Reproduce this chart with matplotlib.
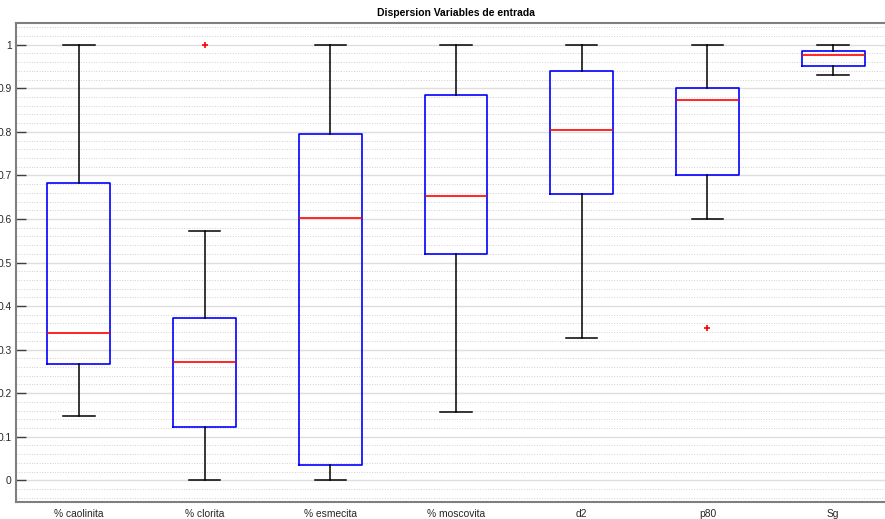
import matplotlib
matplotlib.use('Agg')
import matplotlib.pyplot as plt
from matplotlib.ticker import MultipleLocator

plt.rcParams['font.family'] = ['Liberation Sans', 'DejaVu Sans']

## Data ##
labels = ['% caolinita', '% clorita', '% esmecita', '% moscovita', 'd2', 'p80', 'Sg']
whisker_low = [0.147, 0.0, 0.0, 0.157, 0.326, 0.599, 0.931]
q1 = [0.267, 0.122, 0.035, 0.519, 0.657, 0.700, 0.952]
median = [0.339, 0.271, 0.602, 0.652, 0.804, 0.873, 0.976]
q3 = [0.682, 0.373, 0.795, 0.884, 0.939, 0.901, 0.986]
whisker_high = [1.0, 0.572, 1.0, 1.0, 1.0, 1.0, 1.0]
outliers = [[], [1.0], [], [], [], [0.349], []]

stats = []
for i in range(len(labels)):
    stats.append({'label': labels[i], 'whislo': whisker_low[i], 'q1': q1[i],
                  'med': median[i], 'q3': q3[i], 'whishi': whisker_high[i],
                  'fliers': outliers[i]})

fig = plt.figure(figsize=(8.85, 5.19), dpi=100)
ax = fig.add_axes([16 / 885, 17 / 519, 880 / 885, 479 / 519])

ax.bxp(stats, positions=range(1, 8), widths=0.5, capwidths=0.25,
       boxprops=dict(color='blue', linewidth=1.2),
       medianprops=dict(color='red', linewidth=1.2),
       whiskerprops=dict(color='black', linewidth=1.1, linestyle='-'),
       capprops=dict(color='black', linewidth=1.1),
       flierprops=dict(marker='+', markeredgecolor='red', markersize=4, markeredgewidth=1.2))

ax.set_xlim(0.5, 7.5)
ax.set_ylim(-0.05, 1.05)
ax.set_yticks([0, 0.1, 0.2, 0.3, 0.4, 0.5, 0.6, 0.7, 0.8, 0.9, 1])
ax.set_yticklabels(['0', '0.1', '0.2', '0.3', '0.4', '0.5', '0.6', '0.7', '0.8', '0.9', '1'])
ax.yaxis.set_minor_locator(MultipleLocator(0.02))

## grid like matlab ##
ax.grid(which='major', axis='y', color='#dedede', linewidth=1.0)
ax.grid(which='minor', axis='y', color='#d0d0d0', linestyle=':', linewidth=0.7)
ax.set_axisbelow(True)

ax.tick_params(axis='y', which='major', direction='in', length=7, width=1,
               color='#404040', labelsize=7.4, labelcolor='#262626', pad=3)
ax.tick_params(axis='y', which='minor', length=0)
ax.tick_params(axis='x', length=0, labelsize=7.4, labelcolor='#262626', pad=5)

for side in ['left', 'top', 'bottom']:
    ax.spines[side].set_color('#7f7f7f')
    ax.spines[side].set_linewidth(1.5)
ax.spines['right'].set_visible(False)

ax.set_title('Dispersion Variables de entrada', fontsize=7.5, fontweight='bold', pad=5)

fig.savefig('out.png', dpi=100)
